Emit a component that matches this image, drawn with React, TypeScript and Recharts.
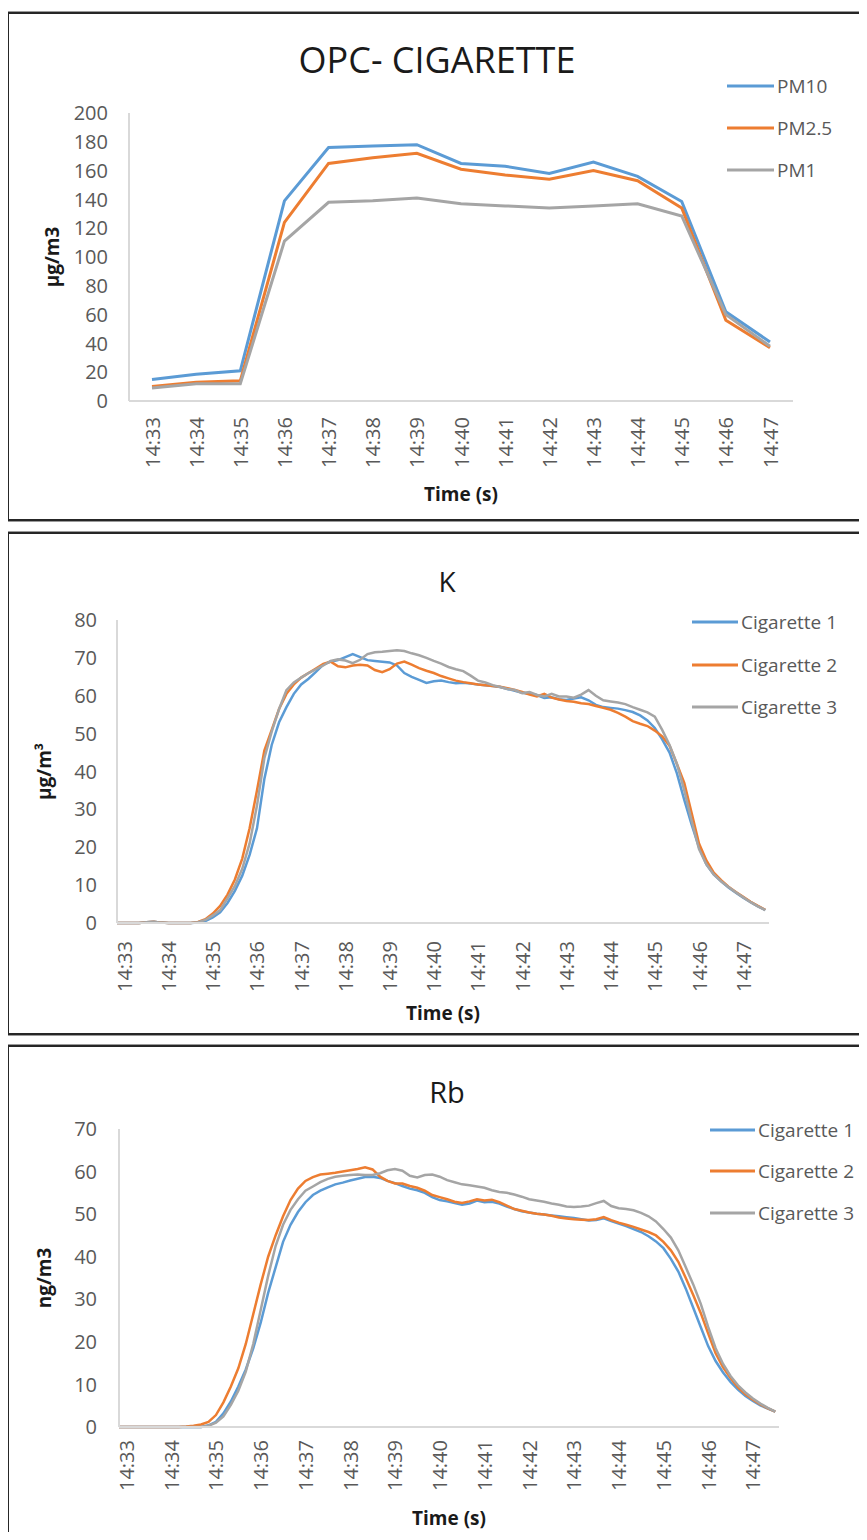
import { LineChart, Line, XAxis, YAxis, Legend, Label } from 'recharts'

const FONT = '"Open Sans", "Noto Sans", sans-serif'
const TICK_COLOR = '#595959'
const AXIS_COLOR = '#D9D9D9'
const BLUE = '#5B9BD5'
const ORANGE = '#ED7D31'
const GRAY = '#A5A5A5'

// minute labels shared by the three time axes
const minuteLabels = [
  '14:33', '14:34', '14:35', '14:36', '14:37', '14:38', '14:39', '14:40',
  '14:41', '14:42', '14:43', '14:44', '14:45', '14:46', '14:47',
]

// OPC mass concentrations, one reading per minute (µg/m3)
const pm10 = [15, 18.5, 21, 139, 176, 177, 178, 165, 163, 158, 166, 156, 138.5, 62, 41]
const pm25 = [10, 13, 14, 124, 165, 169, 172, 161, 157, 154, 160, 153, 134, 56, 37]
const pm1 = [9, 12, 12, 111, 138, 139, 141, 137, 135.5, 134, 135.5, 137, 128.5, 60, 38]
const opcTicks = [0, 20, 40, 60, 80, 100, 120, 140, 160, 180, 200]

// K and Rb are sampled every 10 s, from 14:32:50 to 14:47:30
const sampleSeconds = Array.from({ length: 89 }, (_, i) => i * 10 - 10)
const minuteTicks = minuteLabels.map((_, i) => i * 60)

// K (µg/m³)
const kCig1 = [
  0, 0, 0, 0, 0.2, 0.3, 0.1, 0, 0, 0,
  0, 0.1, 0.5, 1.5, 2.8, 5.3, 8.5, 12.5, 18, 25,
  38, 47, 53, 57, 60.5, 63, 64.5, 66.3, 68.2, 69,
  69.4, 70.2, 71, 70.2, 69.4, 69.2, 69, 68.8, 68, 66,
  65, 64.2, 63.4, 63.8, 64, 63.6, 63.3, 63.4, 63.2, 63,
  62.8, 62.6, 62.3, 61.8, 61.3, 60.8, 60.5, 60.2, 59.4, 59.6,
  59.1, 58.9, 59.3, 59.6, 58.8, 57.6, 57, 56.8, 56.6, 56.2,
  55.7, 54.8, 53.5, 51.5, 48.5, 45, 39.5, 32.5, 26, 20,
  15.5, 12.8, 11, 9.4, 8, 6.7, 5.5, 4.4, 3.4,
]
const kCig2 = [
  0, 0, 0, 0, 0.2, 0.3, 0.1, 0, 0, 0,
  0, 0.3, 1, 2.5, 4.5, 7.5, 11.5, 17, 25, 35,
  45.5, 51, 56.5, 60.5, 63, 64.8, 66, 67.2, 68.4, 69,
  67.8, 67.5, 68, 68.2, 68, 66.8, 66.2, 67, 68.5, 69,
  68.2, 67.3, 66.6, 66, 65.2, 64.6, 64, 63.6, 63.3, 63,
  62.8, 62.6, 62.4, 62, 61.5, 61, 60.3, 59.8, 60.5, 59.5,
  59, 58.6, 58.4, 58, 57.8, 57.3, 56.8, 56.3, 55.5, 54.5,
  53.3, 52.6, 52, 50.8, 49.3, 46.8, 42, 37, 29, 21,
  16.5, 13.3, 11.3, 9.6, 8.2, 6.9, 5.6, 4.5, 3.5,
]
const kCig3 = [
  0, 0, 0, 0, 0.2, 0.3, 0.1, 0, 0, 0,
  0, 0.2, 0.8, 2, 3.4, 6.5, 9.8, 14.3, 21, 31,
  43.5, 50.5, 56.5, 61.5, 63.5, 64.8, 66, 67, 68, 69.2,
  69.6, 69.3, 68.6, 69.5, 71, 71.5, 71.6, 71.8, 72, 71.8,
  71.2, 70.7, 70, 69.2, 68.5, 67.6, 67, 66.5, 65.3, 64,
  63.5, 62.8, 62.3, 61.8, 61.5, 60.7, 61, 60.2, 59.8, 60.5,
  59.8, 59.8, 59.5, 60.3, 61.5, 60, 58.8, 58.5, 58.2, 57.8,
  57, 56.3, 55.6, 54.5, 51, 47, 42, 35, 27, 19.5,
  15.5, 12.8, 11, 9.5, 8.1, 6.8, 5.5, 4.4, 3.4,
]
const kTicks = [0, 10, 20, 30, 40, 50, 60, 70, 80]

// Rb (ng/m3)
const rbCig1 = [
  0, 0, 0, 0, 0, 0, 0, 0, 0, 0,
  0, 0, 0.4, 1.2, 3.2, 6, 9.5, 13.5, 18.5, 24.5,
  31.5, 37.5, 43.5, 47.5, 50.5, 52.8, 54.5, 55.5, 56.3, 57,
  57.4, 57.9, 58.3, 58.7, 58.8, 58.5, 57.8, 57.3, 56.6, 56,
  55.6, 55, 54, 53.3, 53, 52.6, 52.2, 52.5, 53.2, 52.8,
  52.9, 52.5, 51.8, 51.2, 50.7, 50.4, 50.1, 49.9, 49.7, 49.5,
  49.3, 49.1, 48.8, 48.5, 48.6, 49, 48.4, 47.8, 47.2, 46.5,
  45.8, 44.8, 43.6, 42, 39.5, 36.5, 32.5, 28, 23.5, 19,
  15.5, 12.8, 10.6, 8.8, 7.3, 6.1, 5.1, 4.3, 3.6,
]
const rbCig2 = [
  0, 0, 0, 0, 0, 0, 0, 0, 0, 0.1,
  0.3, 0.6, 1.2, 2.8, 5.8, 9.5, 13.8, 19.5, 26.5, 33.5,
  40, 45, 49.5, 53.3, 56, 57.8, 58.7, 59.3, 59.5, 59.7,
  60, 60.3, 60.6, 61, 60.5, 58.8, 57.8, 57.2, 57.2, 56.6,
  56.2, 55.5, 54.5, 54, 53.5, 52.9, 52.6, 53, 53.5, 53.2,
  53.4, 52.8, 52, 51.2, 50.8, 50.4, 50.1, 49.9, 49.6, 49.2,
  49, 48.8, 48.7, 48.6, 48.8, 49.3, 48.6, 48, 47.5, 47,
  46.4, 45.8, 45, 43.5, 41.5, 38.8, 35, 31, 26.8, 22,
  17.3, 14, 11.5, 9.3, 7.7, 6.4, 5.3, 4.4, 3.6,
]
const rbCig3 = [
  0, 0, 0, 0, 0, 0, 0, 0, 0, 0,
  0, 0, 0.3, 1, 2.5, 5.2, 8.5, 13, 19.5, 27.5,
  35.5, 42.5, 47.5, 51, 53.5, 55.5, 56.5, 57.5, 58.3, 58.8,
  59, 59.2, 59.3, 59.2, 59.2, 59.6, 60.3, 60.6, 60.2, 59,
  58.6, 59.2, 59.3, 58.8, 58, 57.5, 57, 56.8, 56.5, 56.2,
  55.6, 55.2, 55, 54.6, 54.1, 53.5, 53.2, 52.9, 52.5, 52.2,
  51.8, 51.7, 51.8, 52, 52.6, 53.1, 51.9, 51.4, 51.2, 50.9,
  50.3, 49.5, 48.3, 46.5, 44.5, 41.5, 37.5, 33.5, 29, 23.5,
  18.5, 14.8, 12, 9.8, 8.1, 6.7, 5.5, 4.5, 3.6,
]
const rbTicks = [0, 10, 20, 30, 40, 50, 60, 70]

const opcRows = minuteLabels.map((time, i) => ({ time, pm10: pm10[i], pm25: pm25[i], pm1: pm1[i] }))
const kRows = sampleSeconds.map((t, i) => ({ t, c1: kCig1[i], c2: kCig2[i], c3: kCig3[i] }))
const rbRows = sampleSeconds.map((t, i) => ({ t, c1: rbCig1[i], c2: rbCig2[i], c3: rbCig3[i] }))

const minuteOf = (t: number) => minuteLabels[Math.round(t / 60)] ?? ''

// keep legend entries in series order instead of alphabetical
const seriesOrder = ['pm10', 'pm25', 'pm1', 'c1', 'c2', 'c3']
const bySeries = (item: any) => seriesOrder.indexOf(item.dataKey)

function rotatedTick(format: (v: any) => string) {
  return (props: any) => {
    const { x, y, payload } = props
    return (
      <text
        x={x}
        y={y}
        transform={`rotate(-90 ${x} ${y})`}
        textAnchor="end"
        dominantBaseline="central"
        fill={TICK_COLOR}
        fontSize={20}
        fontFamily={FONT}
      >
        {format(payload.value)}
      </text>
    )
  }
}

function yTitle(text: string, cx: number) {
  return (props: any) => {
    const vb = props.viewBox
    const cy = vb.y + vb.height / 2
    return (
      <text
        x={cx}
        y={cy}
        transform={`rotate(-90 ${cx} ${cy})`}
        textAnchor="middle"
        dominantBaseline="central"
        fontFamily={FONT}
        fontWeight={700}
        fontSize={19}
        fill="#1a1a1a"
      >
        {text}
      </text>
    )
  }
}

function xTitle(text: string) {
  return (props: any) => {
    const vb = props.viewBox
    return (
      <text
        x={vb.x + vb.width / 2}
        y={vb.y + vb.height}
        textAnchor="middle"
        fontFamily={FONT}
        fontWeight={700}
        fontSize={19}
        fill="#1a1a1a"
      >
        {text}
      </text>
    )
  }
}

function legendContent(lineLength: number, rowHeight: number) {
  return (props: any) => (
    <div>
      {(props.payload ?? []).map((item: any) => (
        <div key={item.value} style={{ display: 'flex', alignItems: 'center', height: rowHeight }}>
          <svg width={lineLength} height={4} style={{ display: 'block' }}>
            <line x1={0} y1={2} x2={lineLength} y2={2} stroke={item.color} strokeWidth={3} />
          </svg>
          <span style={{ marginLeft: 3, fontFamily: FONT, fontSize: 19, color: TICK_COLOR, whiteSpace: 'nowrap' }}>
            {item.value}
          </span>
        </div>
      ))}
    </div>
  )
}

function Frame({ top, height }: { top: number; height: number }) {
  return (
    <div
      style={{
        position: 'absolute',
        left: 7,
        top,
        width: 857,
        height,
        boxSizing: 'border-box',
        border: '2px solid #262626',
        boxShadow: '0 0 0 1px #9a9a9a',
      }}
    />
  )
}

function Title({ text, cx, cy, size }: { text: string; cx: number; cy: number; size: number }) {
  return (
    <div
      style={{
        position: 'absolute',
        left: cx - 300,
        top: cy - size * 0.7,
        width: 600,
        textAlign: 'center',
        fontFamily: FONT,
        fontSize: size,
        lineHeight: `${size * 1.4}px`,
        color: '#1a1a1a',
      }}
    >
      {text}
    </div>
  )
}

const axisLine = { stroke: AXIS_COLOR, strokeWidth: 2 }
const yTickStyle = { fill: TICK_COLOR, fontSize: 20, fontFamily: FONT }

export default function App() {
  return (
    <div style={{ position: 'relative', width: 867, height: 1540, margin: -8, background: '#fff', overflow: 'hidden' }}>
      <Frame top={12} height={509} />
      <Frame top={532} height={503} />
      <Frame top={1045} height={520} />

      {/* OPC particle mass */}
      <Title text="OPC- CIGARETTE" cx={437} cy={60} size={36} />
      <div style={{ position: 'absolute', left: 0, top: 0 }}>
        <LineChart width={867} height={522} data={opcRows} margin={{ top: 113, right: 74, bottom: 21, left: 0 }}>
          <XAxis
            dataKey="time"
            type="category"
            interval={0}
            padding={{ left: 23, right: 23 }}
            axisLine={axisLine}
            tickLine={false}
            tickMargin={10}
            height={100}
            tick={rotatedTick((v) => String(v))}
          >
            <Label content={xTitle('Time (s)')} />
          </XAxis>
          <YAxis
            domain={[0, 200]}
            ticks={opcTicks}
            interval={0}
            width={129}
            axisLine={axisLine}
            tickLine={false}
            tickMargin={15}
            tick={yTickStyle}
          >
            <Label content={yTitle('µg/m3', 52)} />
          </YAxis>
          <Legend
            layout="vertical"
            align="center"
            verticalAlign="middle"
            itemSorter={bySeries}
            wrapperStyle={{ left: 727, top: 65, width: 'auto', height: 'auto' }}
            content={legendContent(47, 42)}
          />
          <Line dataKey="pm10" name="PM10" stroke={BLUE} strokeWidth={3} dot={false} activeDot={false} isAnimationActive={false} />
          <Line dataKey="pm25" name="PM2.5" stroke={ORANGE} strokeWidth={3} dot={false} activeDot={false} isAnimationActive={false} />
          <Line dataKey="pm1" name="PM1" stroke={GRAY} strokeWidth={3} dot={false} activeDot={false} isAnimationActive={false} />
        </LineChart>
      </div>

      {/* K */}
      <Title text="K" cx={447} cy={582} size={28} />
      <div style={{ position: 'absolute', left: 0, top: 532 }}>
        <LineChart width={867} height={503} data={kRows} margin={{ top: 88, right: 98, bottom: 15, left: 0 }}>
          <XAxis
            dataKey="t"
            type="number"
            domain={[-10, 875]}
            ticks={minuteTicks}
            interval={0}
            axisLine={axisLine}
            tickLine={false}
            tickMargin={12}
            height={97}
            tick={rotatedTick(minuteOf)}
          >
            <Label content={xTitle('Time (s)')} />
          </XAxis>
          <YAxis
            domain={[0, 80]}
            ticks={kTicks}
            interval={0}
            width={117}
            axisLine={axisLine}
            tickLine={false}
            tickMargin={14}
            tick={yTickStyle}
          >
            <Label content={yTitle('µg/m³', 44)} />
          </YAxis>
          <Legend
            layout="vertical"
            align="center"
            verticalAlign="middle"
            itemSorter={bySeries}
            wrapperStyle={{ left: 692, top: 69, width: 'auto', height: 'auto' }}
            content={legendContent(46, 42.5)}
          />
          <Line dataKey="c1" name="Cigarette 1" stroke={BLUE} strokeWidth={2.5} dot={false} activeDot={false} isAnimationActive={false} />
          <Line dataKey="c2" name="Cigarette 2" stroke={ORANGE} strokeWidth={2.5} dot={false} activeDot={false} isAnimationActive={false} />
          <Line dataKey="c3" name="Cigarette 3" stroke={GRAY} strokeWidth={2.5} dot={false} activeDot={false} isAnimationActive={false} />
        </LineChart>
      </div>

      {/* Rb */}
      <Title text="Rb" cx={447} cy={1092} size={29} />
      <div style={{ position: 'absolute', left: 0, top: 1045 }}>
        <LineChart width={867} height={495} data={rbRows} margin={{ top: 84, right: 88, bottom: 15, left: 0 }}>
          <XAxis
            dataKey="t"
            type="number"
            domain={[-9, 875]}
            ticks={minuteTicks}
            interval={0}
            axisLine={axisLine}
            tickLine={false}
            tickMargin={7}
            height={98}
            tick={rotatedTick(minuteOf)}
          >
            <Label content={xTitle('Time (s)')} />
          </XAxis>
          <YAxis
            domain={[0, 70]}
            ticks={rbTicks}
            interval={0}
            width={119}
            axisLine={axisLine}
            tickLine={false}
            tickMargin={16}
            tick={yTickStyle}
          >
            <Label content={yTitle('ng/m3', 44)} />
          </YAxis>
          <Legend
            layout="vertical"
            align="center"
            verticalAlign="middle"
            itemSorter={bySeries}
            wrapperStyle={{ left: 710, top: 64, width: 'auto', height: 'auto' }}
            content={legendContent(45, 41.5)}
          />
          <Line dataKey="c1" name="Cigarette 1" stroke={BLUE} strokeWidth={2.5} dot={false} activeDot={false} isAnimationActive={false} />
          <Line dataKey="c2" name="Cigarette 2" stroke={ORANGE} strokeWidth={2.5} dot={false} activeDot={false} isAnimationActive={false} />
          <Line dataKey="c3" name="Cigarette 3" stroke={GRAY} strokeWidth={2.5} dot={false} activeDot={false} isAnimationActive={false} />
        </LineChart>
      </div>
    </div>
  )
}
